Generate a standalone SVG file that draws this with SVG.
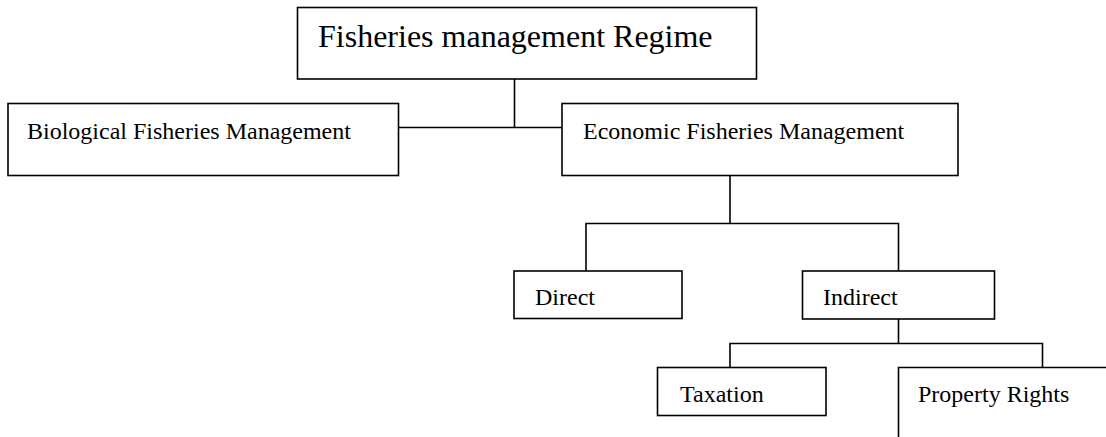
<svg xmlns="http://www.w3.org/2000/svg" width="1106" height="437" viewBox="0 0 1106 437">
  <style>
    .box { fill: #ffffff; stroke: #000000; stroke-width: 1.6; }
    .link { fill: none; stroke: #000000; stroke-width: 1.6; }
    .label { font-family: "Liberation Serif", "Times New Roman", serif; font-size: 24px; fill: #000000; }
    .title { font-size: 32px; }
  </style>
  <rect width="1106" height="437" fill="#ffffff"/>

  <!-- connectors -->
  <g id="connectors">
    <path class="link" d="M514.5,79 V127.5 M398.5,127.5 H562"/>
    <path class="link" d="M730,175.5 V223.5 M586,271 V223.5 H898.5 V271"/>
    <path class="link" d="M898.5,319 V343.5 M730,367.5 V343.5 H1042.5 V367.5"/>
  </g>

  <g id="regime">
    <rect class="box" x="297.5" y="7.5" width="459" height="71.5"/>
    <text class="label title" x="318" y="46.5">Fisheries management Regime</text>
  </g>

  <g id="biological">
    <rect class="box" x="8" y="103.5" width="390.5" height="72"/>
    <text class="label" x="27" y="138.5">Biological Fisheries Management</text>
  </g>

  <g id="economic">
    <rect class="box" x="562" y="103.5" width="396" height="72"/>
    <text class="label" x="583" y="138.5">Economic Fisheries Management</text>
  </g>

  <g id="direct">
    <rect class="box" x="514" y="271" width="168" height="47.5"/>
    <text class="label" x="535" y="305">Direct</text>
  </g>

  <g id="indirect">
    <rect class="box" x="802.5" y="271" width="192" height="48"/>
    <text class="label" x="823" y="305">Indirect</text>
  </g>

  <g id="taxation">
    <rect class="box" x="657.5" y="367.5" width="168.5" height="48"/>
    <text class="label" x="680" y="401.5">Taxation</text>
  </g>

  <g id="property-rights">
    <path class="link" d="M898.5,437 V367.5 H1106"/>
    <text class="label" x="918" y="401.5">Property Rights</text>
  </g>
</svg>
